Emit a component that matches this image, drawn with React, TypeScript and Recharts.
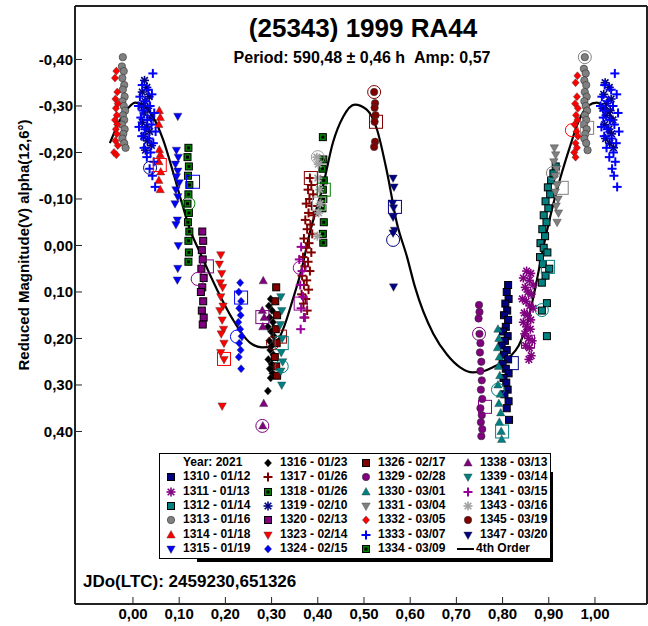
import React from "react";
import { ComposedChart, Line, Scatter, XAxis, YAxis } from "recharts";

type Pt = { x: number; y: number };
const pts = (rows: number[][]): Pt[] => rows.map(([x, y]) => ({ x, y }));

// phase / reduced magnitude readings, one array per session
const s1310 = pts([[0.812,0.085],[0.809,0.1],[0.813,0.115],[0.806,0.125],[0.81,0.14],[0.803,0.15],[0.812,0.16],[0.807,0.175],[0.801,0.185],[0.811,0.195],[0.805,0.205],[0.798,0.215],[0.809,0.225],[0.803,0.235],[0.812,0.245],[0.8,0.255],[0.807,0.265],[0.813,0.275],[0.802,0.285],[0.808,0.295],[0.811,0.31],[0.804,0.32],[0.813,0.335],[0.809,0.35],[0.814,0.375]]);
const s1311 = pts([[0.852,0.055],[0.861,0.06],[0.845,0.07],[0.858,0.075],[0.866,0.085],[0.849,0.09],[0.855,0.1],[0.862,0.105],[0.843,0.115],[0.851,0.12],[0.859,0.13],[0.866,0.135],[0.847,0.145],[0.854,0.15],[0.861,0.16],[0.845,0.165],[0.852,0.175],[0.86,0.18],[0.848,0.19],[0.856,0.2],[0.864,0.205],[0.85,0.215],[0.858,0.22],[0.862,0.237],[0.857,0.245]]);
const s1312 = pts([[0.915,-0.17],[0.91,-0.155],[0.905,-0.14],[0.898,-0.125],[0.903,-0.11],[0.893,-0.095],[0.899,-0.08],[0.889,-0.065],[0.895,-0.05],[0.886,-0.035],[0.892,-0.02],[0.882,-0.005],[0.889,0.005],[0.897,0.015],[0.881,0.025],[0.887,0.04],[0.901,0.05],[0.893,0.065],[0.885,0.08],[0.896,0.124],[0.885,0.14],[0.896,0.195]]);
const s1313 = pts([[-0.022,-0.405],[-0.024,-0.385],[-0.02,-0.375],[-0.023,-0.36],[-0.019,-0.345],[-0.022,-0.335],[-0.018,-0.32],[-0.023,-0.31],[-0.02,-0.3],[-0.017,-0.29],[-0.022,-0.28],[-0.019,-0.27],[-0.024,-0.26],[-0.018,-0.25],[-0.021,-0.24],[-0.023,-0.23],[-0.019,-0.22],[-0.016,-0.21],
  [0.978,-0.405],[0.976,-0.38],[0.98,-0.37],[0.977,-0.355],[0.981,-0.345],[0.978,-0.33],[0.982,-0.32],[0.977,-0.31],[0.98,-0.3],[0.983,-0.29],[0.978,-0.28],[0.981,-0.27],[0.976,-0.26],[0.982,-0.25],[0.979,-0.24],[0.977,-0.23],[0.981,-0.22],[0.984,-0.205]]);
const s1314 = pts([[0.057,-0.29],[0.059,-0.275],[0.056,-0.26],[0.057,-0.206],[0.059,-0.195],[0.056,-0.18],[0.06,-0.158],[0.056,-0.14],[0.059,-0.12]]);
const s1315 = pts([[0.097,-0.278],[0.094,-0.205],[0.098,-0.19],[0.092,-0.175],[0.097,-0.16],[0.094,-0.148],[0.1,-0.135],[0.093,-0.12],[0.097,-0.105],[0.091,-0.09],[0.096,-0.055],[0.093,-0.045],[0.098,0],[0.097,0.049],[0.096,0.074]]);
const s1316 = pts([[0.298,0.115],[0.294,0.13],[0.301,0.14],[0.296,0.155],[0.303,0.165],[0.292,0.175],[0.299,0.185],[0.305,0.195],[0.295,0.205],[0.301,0.215],[0.297,0.225],[0.304,0.235],[0.293,0.245],[0.3,0.255],[0.296,0.265],[0.302,0.275],[0.298,0.285],[0.292,0.313]]);
const s1317 = pts([[0.383,-0.145],[0.386,-0.13],[0.379,-0.12],[0.39,-0.11],[0.382,-0.1],[0.375,-0.09],[0.387,-0.085],[0.38,-0.07],[0.391,-0.065],[0.373,-0.055],[0.384,-0.045],[0.377,-0.035],[0.388,-0.025],[0.37,-0.015],[0.381,-0.005],[0.375,0.005],[0.386,0.015],[0.368,0.025],[0.379,0.035],[0.372,0.045],[0.383,0.055],[0.366,0.065],[0.376,0.075],[0.37,0.085],[0.38,0.095],[0.365,0.105],[0.374,0.115],[0.369,0.125],[0.377,0.14],[0.372,0.155]]);
const s1318 = pts([[0.12,-0.21],[0.118,-0.19],[0.121,-0.17],[0.119,-0.15],[0.122,-0.13],[0.12,-0.11],[0.118,-0.09],[0.121,-0.07],[0.119,-0.05],[0.122,-0.03],[0.12,-0.01],[0.121,0.015],[0.12,0.035]]);
const s1319 = pts([[0.025,-0.355],[0.03,-0.34],[0.02,-0.33],[0.035,-0.32],[0.026,-0.31],[0.018,-0.3],[0.032,-0.295],[0.024,-0.285],[0.038,-0.275],[0.02,-0.265],[0.029,-0.255],[0.036,-0.245],[0.023,-0.235],[0.031,-0.225],[0.04,-0.215],[0.027,-0.205],
  [1.022,-0.35],[1.031,-0.34],[1.019,-0.325],[1.035,-0.315],[1.025,-0.305],[1.017,-0.295],[1.033,-0.29],[1.024,-0.28],[1.039,-0.27],[1.021,-0.26],[1.03,-0.25],[1.036,-0.24],[1.023,-0.23],[1.032,-0.22],[1.04,-0.21]]);
const s1320 = pts([[0.15,-0.03],[0.152,-0.01],[0.149,0.01],[0.151,0.03],[0.148,0.05],[0.153,0.07],[0.15,0.09],[0.147,0.1],[0.152,0.12],[0.149,0.14],[0.153,0.155],[0.151,0.17]]);
const s1323 = pts([[0.19,0.02],[0.187,0.04],[0.192,0.06],[0.189,0.08],[0.194,0.09],[0.19,0.11],[0.195,0.13],[0.188,0.14],[0.193,0.16],[0.196,0.18],[0.191,0.19],[0.197,0.21],[0.19,0.23],[0.197,0.245],[0.193,0.345]]);
const s1324 = pts([[0.232,0.08],[0.229,0.1],[0.234,0.12],[0.23,0.135],[0.233,0.15],[0.228,0.165],[0.232,0.18],[0.235,0.195],[0.23,0.21],[0.233,0.225],[0.229,0.24],[0.234,0.265]]);
const s1326 = pts([[0.31,0.09],[0.308,0.12],[0.312,0.15],[0.309,0.18],[0.311,0.21],[0.307,0.24],[0.31,0.26],[0.312,0.28]]);
const s1329 = pts([[0.749,0.128],[0.75,0.143],[0.748,0.157],[0.75,0.19],[0.752,0.21],[0.751,0.23],[0.754,0.25],[0.752,0.27],[0.755,0.29],[0.753,0.31],[0.756,0.33],[0.752,0.35],[0.755,0.365],[0.753,0.38],[0.756,0.395],[0.754,0.41]]);
const s1330 = pts([[0.79,0.18],[0.792,0.2],[0.789,0.22],[0.793,0.24],[0.791,0.26],[0.794,0.28],[0.79,0.3],[0.795,0.32],[0.792,0.34],[0.796,0.36],[0.793,0.38],[0.797,0.4],[0.798,0.417]]);
const s1331 = pts([[0.912,-0.21],[0.915,-0.195],[0.911,-0.18],[0.917,-0.165],[0.913,-0.15],[0.918,-0.13],[0.914,-0.115],[0.92,-0.1],[0.916,-0.085],[0.921,-0.07],[0.918,-0.05]]);
const s1332 = pts([[-0.036,-0.375],[-0.039,-0.36],[-0.034,-0.33],[-0.038,-0.315],[-0.033,-0.305],[-0.037,-0.295],[-0.035,-0.28],[-0.039,-0.27],[-0.034,-0.26],[-0.037,-0.25],[-0.035,-0.24],[-0.038,-0.225],[-0.033,-0.215],[-0.041,-0.2],[-0.036,-0.195],
  [0.962,-0.365],[0.958,-0.35],[0.961,-0.32],[0.957,-0.305],[0.963,-0.295],[0.959,-0.28],[0.962,-0.27],[0.956,-0.26],[0.96,-0.245],[0.963,-0.235],[0.958,-0.22],[0.961,-0.21],[0.955,-0.2],[0.958,-0.19]]);
const s1333 = pts([[0.043,-0.37],[0.02,-0.345],[0.033,-0.335],[0.015,-0.32],[0.041,-0.325],[0.027,-0.31],[0.012,-0.3],[0.037,-0.3],[0.022,-0.29],[0.046,-0.285],[0.017,-0.275],[0.031,-0.27],[0.04,-0.26],[0.013,-0.255],[0.026,-0.25],[0.049,-0.245],[0.019,-0.235],[0.035,-0.23],[0.044,-0.22],[0.024,-0.21],[0.038,-0.2],[0.03,-0.19],[0.045,-0.18],[0.036,-0.165],[0.042,-0.15],[0.048,-0.126],
  [1.043,-0.37],[1.021,-0.345],[1.035,-0.335],[1.015,-0.32],[1.047,-0.325],[1.028,-0.31],[1.012,-0.3],[1.039,-0.3],[1.022,-0.29],[1.05,-0.285],[1.018,-0.275],[1.032,-0.27],[1.042,-0.26],[1.014,-0.255],[1.027,-0.25],[1.052,-0.245],[1.02,-0.235],[1.036,-0.23],[1.046,-0.22],[1.025,-0.21],[1.04,-0.2],[1.031,-0.19],[1.044,-0.18],[1.037,-0.165],[1.041,-0.15],[1.048,-0.126]]);
const s1334 = pts([[0.411,-0.233],[0.412,-0.185],[0.41,-0.165],[0.413,-0.14],[0.411,-0.12],[0.412,-0.1],[0.41,-0.08],[0.413,-0.05],[0.411,-0.025],[0.412,-0.006]]);
const s1338 = pts([[0.282,0.076],[0.28,0.14],[0.284,0.155],[0.281,0.175],[0.283,0.34],[0.281,0.388]]);
const s1339 = pts([[0.32,0.11],[0.322,0.14],[0.319,0.17],[0.323,0.2],[0.321,0.23],[0.324,0.25],[0.32,0.27],[0.322,0.3]]);
const s1341 = pts([[0.364,0.003],[0.36,0.03],[0.366,0.055],[0.362,0.085],[0.368,0.11],[0.364,0.135],[0.37,0.155],[0.363,0.18]]);
const s1343 = pts([[0.398,-0.19],[0.401,-0.175],[0.4,-0.145],[0.404,-0.12],[0.405,-0.09],[0.402,-0.07],[0.399,-0.02]]);
const s1345 = pts([[0.522,-0.33],[0.524,-0.306],[0.523,-0.296],[0.525,-0.28],[0.523,-0.266],[0.524,-0.223],[0.522,-0.212]]);
const s1347 = pts([[0.563,-0.145],[0.565,-0.126],[0.562,-0.091],[0.564,-0.081],[0.563,-0.061],[0.566,-0.033],[0.563,-0.027],[0.564,0.089]]);

// 4th order Fourier fit
const fit = pts([[-0.05,-0.22],[-0.028,-0.27],[-0.01,-0.296],[0.005,-0.307],[0.02,-0.303],[0.043,-0.277],[0.065,-0.228],[0.087,-0.157],[0.108,-0.084],[0.123,-0.035],[0.145,0.015],[0.182,0.095],[0.216,0.159],[0.253,0.209],[0.279,0.219],[0.303,0.217],[0.325,0.18],[0.346,0.116],[0.364,0.055],[0.383,-0.028],[0.411,-0.127],[0.433,-0.222],[0.455,-0.277],[0.48,-0.303],[0.506,-0.292],[0.528,-0.25],[0.55,-0.157],[0.571,-0.049],[0.593,0.024],[0.61,0.088],[0.65,0.19],[0.68,0.235],[0.708,0.262],[0.736,0.273],[0.76,0.27],[0.779,0.262],[0.816,0.239],[0.835,0.215],[0.853,0.17],[0.87,0.095],[0.887,0.01],[0.905,-0.07],[0.925,-0.145],[0.945,-0.21],[0.965,-0.268],[0.985,-0.3],[1.004,-0.307],[1.025,-0.292],[1.04,-0.272]]);

// first / last points of sessions (open markers)
const openCircles = [
  { s: "1313", x: 0.978, y: -0.405 }, { s: "1332", x: 0.95, y: -0.248 }, { s: "1331", x: 0.909, y: -0.156 },
  { s: "1312", x: 0.885, y: 0.139 }, { s: "1329", x: 0.749, y: 0.19 }, { s: "1330", x: 0.79, y: 0.31 },
  { s: "1345", x: 0.522, y: -0.33 }, { s: "1347", x: 0.563, y: -0.012 }, { s: "1343", x: 0.4, y: -0.19 },
  { s: "1341", x: 0.361, y: 0.048 }, { s: "1333", x: 0.03, y: -0.266 }, { s: "1319", x: 0.037, y: -0.167 },
  { s: "1318", x: 0.12, y: -0.09 }, { s: "1320", x: 0.14, y: 0.072 }, { s: "1324", x: 0.225, y: 0.196 },
  { s: "1338", x: 0.28, y: 0.388 }, { s: "1326", x: 0.303, y: 0.21 }, { s: "1339", x: 0.322, y: 0.26 },
];
const openSquares = [
  { s: "1313", x: 0.983, y: -0.253 }, { s: "1331", x: 0.928, y: -0.124 }, { s: "1312", x: 0.898, y: 0.046 },
  { s: "1311", x: 0.855, y: 0.207 }, { s: "1329", x: 0.762, y: 0.347 }, { s: "1310", x: 0.82, y: 0.253 },
  { s: "1330", x: 0.799, y: 0.4 }, { s: "1345", x: 0.526, y: -0.266 }, { s: "1347", x: 0.567, y: -0.083 },
  { s: "1334", x: 0.413, y: -0.12 }, { s: "1343", x: 0.403, y: -0.09 }, { s: "1317", x: 0.385, y: -0.145 },
  { s: "1341", x: 0.363, y: 0.125 }, { s: "1314", x: 0.058, y: -0.173 }, { s: "1315", x: 0.13, y: -0.137 },
  { s: "1320", x: 0.16, y: 0.045 }, { s: "1324", x: 0.234, y: 0.112 }, { s: "1323", x: 0.197, y: 0.244 },
  { s: "1338", x: 0.28, y: 0.154 }, { s: "1326", x: 0.318, y: 0.196 }, { s: "1339", x: 0.322, y: 0.21 },
];

const xTicks = [0, 0.1, 0.2, 0.3, 0.4, 0.5, 0.6, 0.7, 0.8, 0.9, 1.0];
const yTicks = [-0.4, -0.3, -0.2, -0.1, 0, 0.1, 0.2, 0.3, 0.4];
const X_DOMAIN: [number, number] = [-0.1255, 1.1126];
const Y_DOMAIN: [number, number] = [-0.515, 0.771];

type Kind = "square" | "squareIn" | "asterisk" | "circle" | "triUp" | "triDown" | "diamond" | "plus";
interface Session { id: string; date: string; kind: Kind; color: string; data: Pt[] }

const sessions: Session[] = [
  { id: "1310", date: "01/12", kind: "square", color: "#000080", data: s1310 },
  { id: "1311", date: "01/13", kind: "asterisk", color: "#800080", data: s1311 },
  { id: "1312", date: "01/14", kind: "square", color: "#008080", data: s1312 },
  { id: "1313", date: "01/16", kind: "circle", color: "#808080", data: s1313 },
  { id: "1314", date: "01/18", kind: "triUp", color: "#ff0000", data: s1314 },
  { id: "1315", date: "01/19", kind: "triDown", color: "#0000ff", data: s1315 },
  { id: "1316", date: "01/23", kind: "diamond", color: "#000000", data: s1316 },
  { id: "1317", date: "01/26", kind: "plus", color: "#800000", data: s1317 },
  { id: "1318", date: "01/26", kind: "squareIn", color: "#008000", data: s1318 },
  { id: "1319", date: "02/10", kind: "asterisk", color: "#000080", data: s1319 },
  { id: "1320", date: "02/13", kind: "square", color: "#800080", data: s1320 },
  { id: "1323", date: "02/14", kind: "triDown", color: "#ff0000", data: s1323 },
  { id: "1324", date: "02/15", kind: "diamond", color: "#0000ff", data: s1324 },
  { id: "1326", date: "02/17", kind: "square", color: "#800000", data: s1326 },
  { id: "1329", date: "02/28", kind: "circle", color: "#800080", data: s1329 },
  { id: "1330", date: "03/01", kind: "triUp", color: "#008080", data: s1330 },
  { id: "1331", date: "03/04", kind: "triDown", color: "#808080", data: s1331 },
  { id: "1332", date: "03/05", kind: "diamond", color: "#ff0000", data: s1332 },
  { id: "1333", date: "03/07", kind: "plus", color: "#0000ff", data: s1333 },
  { id: "1334", date: "03/09", kind: "squareIn", color: "#008000", data: s1334 },
  { id: "1338", date: "03/13", kind: "triUp", color: "#800080", data: s1338 },
  { id: "1339", date: "03/14", kind: "triDown", color: "#008080", data: s1339 },
  { id: "1341", date: "03/15", kind: "plus", color: "#990099", data: s1341 },
  { id: "1343", date: "03/16", kind: "asterisk", color: "#a0a0a0", data: s1343 },
  { id: "1345", date: "03/19", kind: "circle", color: "#800000", data: s1345 },
  { id: "1347", date: "03/20", kind: "triDown", color: "#000080", data: s1347 },
];
const colorOf = (id: string) => sessions.find((s) => s.id === id)?.color ?? "#000";

const legendCols: string[][] = [
  ["year", "1310", "1311", "1312", "1313", "1314", "1315"],
  ["1316", "1317", "1318", "1319", "1320", "1323", "1324"],
  ["1326", "1329", "1330", "1331", "1332", "1333", "1334"],
  ["1338", "1339", "1341", "1343", "1345", "1347", "fit"],
];

const FONT = "'Liberation Sans', Arial, sans-serif";
const fmt = (v: number) => (Math.abs(v) < 1e-9 ? "0,00" : v.toFixed(2).replace(".", ","));

function Marker({ kind, cx, cy, color }: { kind: Kind; cx: number; cy: number; color: string }) {
  switch (kind) {
    case "square":
      return <rect x={cx - 3.5} y={cy - 3.5} width={7} height={7} fill={color} stroke="#000" strokeWidth={1} />;
    case "squareIn":
      return (
        <g>
          <rect x={cx - 3.5} y={cy - 3.5} width={7} height={7} fill={color} stroke="#000" strokeWidth={1} />
          <rect x={cx - 1.5} y={cy - 1.5} width={3} height={3} fill="#000" />
        </g>
      );
    case "circle":
      return <circle cx={cx} cy={cy} r={3.7} fill={color} stroke="#333" strokeWidth={0.6} />;
    case "triUp":
      return <polygon points={`${cx},${cy - 4.5} ${cx + 4.2},${cy + 3} ${cx - 4.2},${cy + 3}`} fill={color} stroke="#333" strokeWidth={0.4} />;
    case "triDown":
      return <polygon points={`${cx},${cy + 4.5} ${cx + 4.2},${cy - 3} ${cx - 4.2},${cy - 3}`} fill={color} stroke="#333" strokeWidth={0.4} />;
    case "diamond":
      return <polygon points={`${cx},${cy - 4} ${cx + 3.6},${cy} ${cx},${cy + 4} ${cx - 3.6},${cy}`} fill={color} stroke="#333" strokeWidth={0.4} />;
    case "plus":
      return (
        <g stroke={color} strokeWidth={2}>
          <line x1={cx - 4.5} y1={cy} x2={cx + 4.5} y2={cy} />
          <line x1={cx} y1={cy - 4.5} x2={cx} y2={cy + 4.5} />
        </g>
      );
    case "asterisk":
      return (
        <g stroke={color} strokeWidth={1.6}>
          <line x1={cx - 4.5} y1={cy} x2={cx + 4.5} y2={cy} />
          <line x1={cx} y1={cy - 4.5} x2={cx} y2={cy + 4.5} />
          <line x1={cx - 3.3} y1={cy - 3.3} x2={cx + 3.3} y2={cy + 3.3} />
          <line x1={cx - 3.3} y1={cy + 3.3} x2={cx + 3.3} y2={cy - 3.3} />
        </g>
      );
  }
  return null;
}

function LegendBox() {
  const colX = [0, 97, 195, 297];
  return (
    <>
      <div style={{ position: "absolute", left: 197, top: 558, width: 356, height: 4, background: "#000" }} />
      <div style={{ position: "absolute", left: 550, top: 472, width: 3, height: 90, background: "#000" }} />
      <div
        style={{
          position: "absolute", left: 159, top: 453, width: 390, height: 104,
          background: "#fff", border: "1px solid #000", fontFamily: FONT,
          fontWeight: 700, fontSize: 12, color: "#000",
        }}
      >
        {legendCols.map((col, ci) =>
          col.map((key, ri) => {
            const top = 1 + ri * 14.3;
            const left = colX[ci];
            if (key === "year")
              return (
                <span key={key} style={{ position: "absolute", left: left + 23, top, whiteSpace: "nowrap" }}>
                  Year: 2021
                </span>
              );
            if (key === "fit")
              return (
                <React.Fragment key={key}>
                  <span style={{ position: "absolute", left: left + 0, top: top + 7, width: 17, height: 2, background: "#000" }} />
                  <span style={{ position: "absolute", left: left + 19, top, whiteSpace: "nowrap" }}>4th Order</span>
                </React.Fragment>
              );
            const s = sessions.find((x) => x.id === key)!;
            return (
              <React.Fragment key={key}>
                <svg width={12} height={12} style={{ position: "absolute", left: left + 5, top: top + 2 }}>
                  <Marker kind={s.kind} cx={6} cy={6} color={s.color} />
                </svg>
                <span style={{ position: "absolute", left: left + 23, top, whiteSpace: "nowrap" }}>
                  {s.id} - {s.date}
                </span>
              </React.Fragment>
            );
          })
        )}
      </div>
    </>
  );
}

export default function App() {
  const axisStroke = { stroke: "#222", strokeWidth: 2 };
  const tickFont = { fill: "#000", fontSize: 15, fontWeight: 700, fontFamily: FONT };
  return (
    <div style={{ position: "absolute", left: 0, top: 0, width: 648, height: 626, background: "#fff", fontFamily: FONT }}>
      <ComposedChart width={648} height={626} margin={{ top: 0, right: 0, bottom: 0, left: 0 }}>
        <XAxis
          type="number" dataKey="x" domain={X_DOMAIN} ticks={xTicks} allowDataOverflow
          height={22} tickSize={-7} tickMargin={11} tickFormatter={fmt}
          axisLine={axisStroke} tickLine={{ stroke: "#222" }} tick={tickFont}
        />
        <XAxis
          xAxisId="top" orientation="top" type="number" dataKey="x" domain={X_DOMAIN} ticks={xTicks}
          allowDataOverflow height={6} tickSize={-11} tick={false} axisLine={axisStroke} tickLine={{ stroke: "#222" }}
        />
        <YAxis
          type="number" dataKey="y" domain={Y_DOMAIN} reversed ticks={yTicks} allowDataOverflow
          width={75} tickSize={-7} tickMargin={9} tickFormatter={fmt}
          axisLine={axisStroke} tickLine={{ stroke: "#222" }} tick={tickFont}
        />
        <YAxis
          yAxisId="right" orientation="right" type="number" dataKey="y" domain={Y_DOMAIN} reversed ticks={yTicks}
          allowDataOverflow width={1} tickSize={-7} tick={false} axisLine={axisStroke} tickLine={{ stroke: "#222" }}
        />

        {sessions.map((s) => (
          <Scatter
            key={s.id}
            name={s.id}
            data={s.data}
            isAnimationActive={false}
            shape={(p: any) => <Marker kind={s.kind} cx={p.cx} cy={p.cy} color={s.color} />}
          />
        ))}
        <Scatter
          data={openCircles}
          isAnimationActive={false}
          shape={(p: any) => <circle cx={p.cx} cy={p.cy} r={6.5} fill="none" stroke={colorOf(p.payload.s)} strokeWidth={1} />}
        />
        <Scatter
          data={openSquares}
          isAnimationActive={false}
          shape={(p: any) => <rect x={p.cx - 6.5} y={p.cy - 6.5} width={13} height={13} fill="none" stroke={colorOf(p.payload.s)} strokeWidth={1} />}
        />
        <Line
          data={fit} dataKey="y" type="monotone" stroke="#000" strokeWidth={2.2}
          dot={false} activeDot={false} isAnimationActive={false}
        />
      </ComposedChart>

      <div style={{ position: "absolute", left: 363, top: 28, transform: "translate(-50%,-50%)", fontSize: 26, fontWeight: 700, whiteSpace: "nowrap" }}>
        (25343) 1999 RA44
      </div>
      <div style={{ position: "absolute", left: 362, top: 58, transform: "translate(-50%,-50%)", fontSize: 16, fontWeight: 700, whiteSpace: "nowrap" }}>
        Period: 590,48 ± 0,46 h&nbsp;&nbsp;Amp: 0,57
      </div>
      <div style={{ position: "absolute", left: 23, top: 245, transform: "translate(-50%,-50%) rotate(-90deg)", fontSize: 15, fontWeight: 700, whiteSpace: "nowrap" }}>
        Reduced Magnitude(V) alpha(12,6°)
      </div>
      <div style={{ position: "absolute", left: 83, top: 582, transform: "translateY(-50%)", fontSize: 17, fontWeight: 700, whiteSpace: "nowrap" }}>
        JDo(LTC): 2459230,651326
      </div>
      <LegendBox />
    </div>
  );
}
